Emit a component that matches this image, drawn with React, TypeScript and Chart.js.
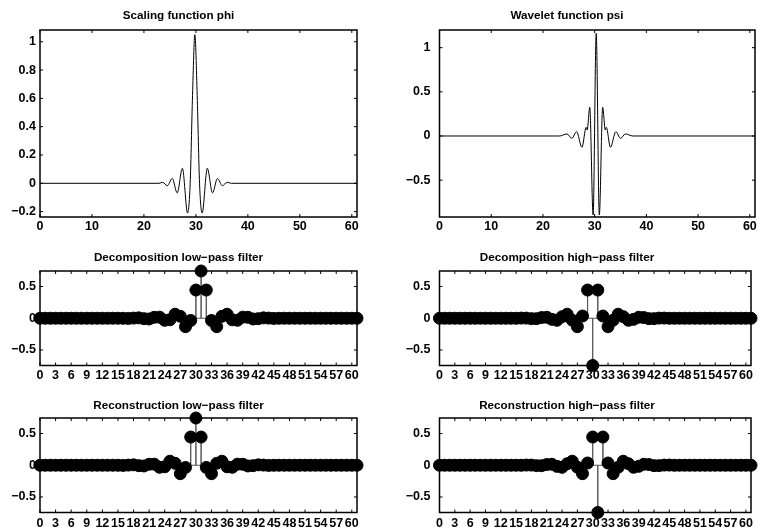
import React, { useEffect, useRef } from "react";
import { Chart, registerables } from "chart.js";

Chart.register(...registerables);

const FONT_FAMILY = "'Liberation Sans', Helvetica, Arial, sans-serif";

// ---- Scaling function phi (key points) ----
const phiX = [0, 22.9, 23.6, 24.5, 25.45, 26.4, 27.4, 28.4, 28.9, 29.35, 29.8, 30.25, 30.7, 31.2, 32.2, 33.2, 34.15, 35.1, 36.0, 36.8, 61];
const phiY = [0, 0, 0.007, -0.017, 0.034, -0.068, 0.106, -0.21, 0, 0.62, 1.05, 0.62, 0, -0.21, 0.106, -0.068, 0.034, -0.017, 0.007, 0, 0];

// ---- Wavelet function psi (key points) ----
const psiX = [0, 23.2, 24.65, 25.6, 26.5, 27.55, 28.35, 28.55, 29.05, 29.7, 30.3, 30.9, 31.55, 32.05, 32.25, 33.05, 34.1, 35.0, 35.95, 37.4, 61];
const psiY = [0, 0, 0.023, -0.026, 0.049, -0.128, 0.098, 0.068, 0.325, -0.894, 1.162, -0.894, 0.325, 0.068, 0.098, -0.128, 0.049, -0.026, 0.023, 0, 0];

// ---- Filters (62 coefficients, index 0..61) ----
const decLowPass = [
  0, 0, 0, 0, 0, 0, 0, 0, 0, 0,
  0, 0, 0, 0, 0, 0.0001, -0.0006, -0.0027, 0.0022, 0.006,
  -0.0064, -0.0111, 0.0153, 0.0174, -0.0321, -0.0243, 0.0637, 0.0307, -0.1328, -0.0351,
  0.4446, 0.7446, 0.4446, -0.0351, -0.1328, 0.0307, 0.0637, -0.0243, -0.0321, 0.0174,
  0.0153, -0.0111, -0.0064, 0.006, 0.0022, -0.0027, -0.0006, 0.0001, 0, 0,
  0, 0, 0, 0, 0, 0, 0, 0, 0, 0,
  0, 0,
];
const decHighPass = [
  0, 0, 0, 0, 0, 0, 0, 0, 0, 0,
  0, 0, 0, 0, -0.0001, -0.0006, 0.0027, 0.0022, -0.006, -0.0064,
  0.0111, 0.0153, -0.0174, -0.0321, 0.0243, 0.0637, -0.0307, -0.1328, 0.0351, 0.4446,
  -0.7446, 0.4446, 0.0351, -0.1328, -0.0307, 0.0637, 0.0243, -0.0321, -0.0174, 0.0153,
  0.0111, -0.0064, -0.006, 0.0022, 0.0027, -0.0006, -0.0001, 0, 0, 0,
  0, 0, 0, 0, 0, 0, 0, 0, 0, 0,
  0, 0,
];
const recLowPass = [
  0, 0, 0, 0, 0, 0, 0, 0, 0, 0,
  0, 0, 0, 0, 0.0001, -0.0006, -0.0027, 0.0022, 0.006, -0.0064,
  -0.0111, 0.0153, 0.0174, -0.0321, -0.0243, 0.0637, 0.0307, -0.1328, -0.0351, 0.4446,
  0.7446, 0.4446, -0.0351, -0.1328, 0.0307, 0.0637, -0.0243, -0.0321, 0.0174, 0.0153,
  -0.0111, -0.0064, 0.006, 0.0022, -0.0027, -0.0006, 0.0001, 0, 0, 0,
  0, 0, 0, 0, 0, 0, 0, 0, 0, 0,
  0, 0,
];
const recHighPass = [
  0, 0, 0, 0, 0, 0, 0, 0, 0, 0,
  0, 0, 0, 0, 0, -0.0001, -0.0006, 0.0027, 0.0022, -0.006,
  -0.0064, 0.0111, 0.0153, -0.0174, -0.0321, 0.0243, 0.0637, -0.0307, -0.1328, 0.0351,
  0.4446, -0.7446, 0.4446, 0.0351, -0.1328, -0.0307, 0.0637, 0.0243, -0.0321, -0.0174,
  0.0153, 0.0111, -0.0064, -0.006, 0.0022, 0.0027, -0.0006, -0.0001, 0, 0,
  0, 0, 0, 0, 0, 0, 0, 0, 0, 0,
  0, 0,
];

// ---- Tick labels ----
const fnXTicks = [0, 10, 20, 30, 40, 50, 60];
const phiYTicks = [-0.2, 0, 0.2, 0.4, 0.6, 0.8, 1];
const psiYTicks = [-0.5, 0, 0.5, 1];
const filterXTicks = [0, 3, 6, 9, 12, 15, 18, 21, 24, 27, 30, 33, 36, 39, 42, 45, 48, 51, 54, 57, 60];
const filterYTicks = [-0.5, 0, 0.5];

const fmt = (v: number) => (v < 0 ? "\u2212" + Math.abs(v) : String(v));

const framePlugin = {
  id: "matlabFrame",
  afterDatasetsDraw(chart: any) {
    const { ctx, chartArea } = chart;
    const { left, right, top, bottom } = chartArea;
    const xs = chart.scales.x;
    const ys = chart.scales.y;
    const L = 3;
    ctx.save();
    ctx.strokeStyle = "#000";
    ctx.lineWidth = 1;
    ctx.beginPath();
    xs.ticks.forEach((t: any) => {
      const px = xs.getPixelForValue(t.value);
      ctx.moveTo(px, bottom);
      ctx.lineTo(px, bottom - L);
      ctx.moveTo(px, top);
      ctx.lineTo(px, top + L);
    });
    ys.ticks.forEach((t: any) => {
      const py = ys.getPixelForValue(t.value);
      ctx.moveTo(left, py);
      ctx.lineTo(left + L, py);
      ctx.moveTo(right, py);
      ctx.lineTo(right - L, py);
    });
    ctx.stroke();
    ctx.lineWidth = 1.5;
    ctx.strokeRect(left, top, right - left, bottom - top);
    ctx.restore();
  },
};

type Box = { left: number; top: number; width: number; height: number };
type Area = { left: number; right: number; top: number; bottom: number };

interface PanelProps {
  box: Box;
  area: Area;
  titleY: number;
  title: string;
  datasets: any[];
  xMin: number;
  xMax: number;
  yMin: number;
  yMax: number;
  xTicks: number[];
  yTicks: number[];
  yGap: number;
  xGap: number;
}

function Panel(p: PanelProps) {
  const ref = useRef<HTMLCanvasElement>(null);
  useEffect(() => {
    if (!ref.current) return;
    const titleSize = 11.7;
    const lh = titleSize * 1.2;
    const tTop = p.titleY - p.box.top - lh / 2;
    const tBottom = p.area.top - p.box.top - lh - tTop;
    const yW = p.area.left - p.box.left;
    const xH = p.box.top + p.box.height - p.area.bottom;
    const tickFont = { family: FONT_FAMILY, size: 12.5, weight: "bold" as const, lineHeight: 1.2 };
    const chart = new Chart(ref.current, {
      type: "scatter",
      data: { datasets: p.datasets },
      options: {
        animation: false,
        responsive: false,
        devicePixelRatio: 1,
        events: [],
        layout: {
          padding: { left: 0, right: p.box.left + p.box.width - p.area.right, top: 0, bottom: 0 },
        },
        plugins: {
          legend: { display: false },
          tooltip: { enabled: false },
          title: {
            display: true,
            text: p.title,
            color: "#000",
            font: { family: FONT_FAMILY, size: titleSize, weight: "bold", lineHeight: 1.2 },
            padding: { top: tTop, bottom: tBottom },
          },
        },
        scales: {
          x: {
            type: "linear",
            min: p.xMin,
            max: p.xMax,
            grid: { display: false, drawTicks: false },
            border: { display: false },
            ticks: {
              color: "#000",
              font: tickFont,
              padding: p.xGap,
              maxRotation: 0,
              minRotation: 0,
              autoSkip: false,
              callback: (v: any) => fmt(Number(v)),
            },
            afterBuildTicks: (s: any) => {
              s.ticks = p.xTicks.map((v) => ({ value: v }));
            },
            afterFit: (s: any) => {
              s.height = xH;
              s.paddingLeft = 0;
              s.paddingRight = 0;
            },
          },
          y: {
            type: "linear",
            min: p.yMin,
            max: p.yMax,
            grid: { display: false, drawTicks: false },
            border: { display: false },
            ticks: {
              color: "#000",
              font: tickFont,
              padding: p.yGap,
              autoSkip: false,
              callback: (v: any) => fmt(Number(v)),
            },
            afterBuildTicks: (s: any) => {
              s.ticks = p.yTicks.map((v) => ({ value: v }));
            },
            afterFit: (s: any) => {
              s.width = yW;
              s.paddingTop = 0;
              s.paddingBottom = 0;
            },
          },
        },
      } as any,
      plugins: [framePlugin],
    });
    return () => chart.destroy();
  }, []);
  return (
    <canvas
      ref={ref}
      width={p.box.width}
      height={p.box.height}
      style={{ position: "absolute", left: p.box.left, top: p.box.top, width: p.box.width, height: p.box.height }}
    />
  );
}

const curveDataset = (xs: number[], ys: number[]) => ({
  data: xs.map((x, i) => ({ x, y: ys[i] })),
  showLine: true,
  borderColor: "#000",
  backgroundColor: "#000",
  borderWidth: 1,
  pointRadius: 0,
  cubicInterpolationMode: "monotone",
});

const stemDatasets = (vals: number[]) => [
  {
    data: vals.map((y, i) => ({ x: i, y })),
    showLine: false,
    pointRadius: 6,
    pointBorderWidth: 1,
    backgroundColor: "#000",
    borderColor: "#000",
    clip: false,
    order: 0,
  },
  {
    data: vals.flatMap((y, i) => [
      { x: i, y: 0 },
      { x: i, y },
      { x: i, y: 0 },
    ]),
    showLine: true,
    borderColor: "#555",
    backgroundColor: "#555",
    borderWidth: 1,
    pointRadius: 0,
    tension: 0,
    order: 1,
  },
];

const colL = { left: 0, width: 379, areaL: 40, areaR: 357, yGap: 4 };
const colR = { left: 379, width: 379, areaL: 439.5, areaR: 755, yGap: 9 };
const row1 = { top: 0, height: 240, areaT: 30, areaB: 217, titleY: 16, xGap: 2.5 };
const row2 = { top: 240, height: 150, areaT: 271, areaB: 365.5, titleY: 257.5, xGap: 3 };
const row3 = { top: 390, height: 140, areaT: 418, areaB: 512.5, titleY: 405.5, xGap: 3.5 };

function geom(col: typeof colL, row: typeof row1) {
  return {
    box: { left: col.left, top: row.top, width: col.width, height: row.height },
    area: { left: col.areaL, right: col.areaR, top: row.areaT, bottom: row.areaB },
    titleY: row.titleY,
    yGap: col.yGap,
    xGap: row.xGap,
  };
}

export default function App() {
  const fMax = 0.7446;
  return (
    <div style={{ position: "fixed", left: 0, top: 0, width: 758, height: 530, background: "#fff", overflow: "hidden" }}>
      <Panel
        {...geom(colL, row1)}
        title="Scaling function phi"
        datasets={[curveDataset(phiX, phiY)]}
        xMin={0}
        xMax={61}
        yMin={-0.238}
        yMax={1.083}
        xTicks={fnXTicks}
        yTicks={phiYTicks}
      />
      <Panel
        {...geom(colR, row1)}
        title="Wavelet function psi"
        datasets={[curveDataset(psiX, psiY)]}
        xMin={0}
        xMax={61}
        yMin={-0.917}
        yMax={1.2}
        xTicks={fnXTicks}
        yTicks={psiYTicks}
      />
      <Panel
        {...geom(colL, row2)}
        title={"Decomposition low\u2212pass filter"}
        datasets={stemDatasets(decLowPass)}
        xMin={0}
        xMax={61}
        yMin={-fMax}
        yMax={fMax}
        xTicks={filterXTicks}
        yTicks={filterYTicks}
      />
      <Panel
        {...geom(colR, row2)}
        title={"Decomposition high\u2212pass filter"}
        datasets={stemDatasets(decHighPass)}
        xMin={0}
        xMax={61}
        yMin={-fMax}
        yMax={fMax}
        xTicks={filterXTicks}
        yTicks={filterYTicks}
      />
      <Panel
        {...geom(colL, row3)}
        title={"Reconstruction low\u2212pass filter"}
        datasets={stemDatasets(recLowPass)}
        xMin={0}
        xMax={61}
        yMin={-fMax}
        yMax={fMax}
        xTicks={filterXTicks}
        yTicks={filterYTicks}
      />
      <Panel
        {...geom(colR, row3)}
        title={"Reconstruction high\u2212pass filter"}
        datasets={stemDatasets(recHighPass)}
        xMin={0}
        xMax={61}
        yMin={-fMax}
        yMax={fMax}
        xTicks={filterXTicks}
        yTicks={filterYTicks}
      />
    </div>
  );
}
